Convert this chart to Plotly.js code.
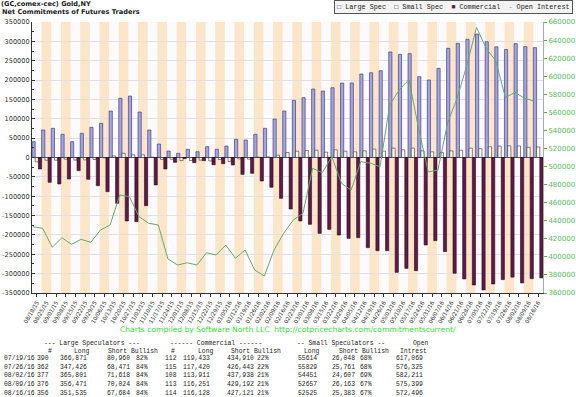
<!DOCTYPE html>
<html><head><meta charset="utf-8">
<script src="https://cdn.plot.ly/plotly-3.0.1.min.js"></script>
<style>html,body{margin:0;padding:0;background:#fff;} #chart{width:576px;height:397px;}</style>
</head><body><div id="chart"></div>
<script>
const dates = ["08/18/15","08/25/15","09/01/15","09/08/15","09/15/15","09/22/15","09/29/15","10/06/15","10/13/15","10/20/15","10/27/15","11/03/15","11/10/15","11/17/15","11/24/15","12/01/15","12/08/15","12/15/15","12/22/15","12/29/15",
"01/05/16","01/12/16","01/19/16","01/26/16","02/02/16","02/09/16","02/16/16","02/23/16","03/01/16","03/08/16","03/15/16","03/22/16","03/29/16","04/05/16","04/12/16","04/19/16","04/26/16","05/03/16","05/10/16","05/17/16","05/24/16","05/31/16","06/07/16","06/14/16","06/21/16","06/28/16","07/05/16","07/12/16","07/19/16","07/26/16","08/02/16","08/09/16","08/16/16"];
const largeSpec = [40800,71000,75400,59900,40800,62500,78000,88300,120000,152900,158800,117500,71000,34900,16800,10800,21200,15000,27900,21200,
29700,47000,45200,59900,75400,99400,120000,147700,154500,177000,171800,180300,192400,192400,215700,219000,224300,272500,266500,268200,208800,200200,230300,282000,295000,305300,319000,299000,285911,278955,294183,286447,283851];
const smallSpec = [-11000,-7000,-7000,-4400,-6800,-6200,-5200,-1000,4000,11000,7000,7000,1000,-5000,-4400,-8000,-7800,-6800,-9000,-5200,
-10300,-3500,-4300,800,1600,6000,13000,16300,18100,18900,13800,19900,16400,14700,17200,21700,16400,24100,19800,24100,17200,14600,12900,17000,18800,24000,23000,27700,29566,30068,29844,26494,27142];
const commercial = [-29700,-64000,-68400,-55500,-34000,-56300,-72800,-88300,-118300,-164000,-165800,-124500,-71000,-29700,-12400,-2800,-13400,-8200,-18900,-16000,
-19400,-43500,-40900,-60700,-77000,-105400,-133000,-164000,-172600,-195900,-185600,-200200,-208800,-207100,-232900,-240700,-240700,-296600,-286300,-292300,-226000,-214800,-243200,-299000,-313800,-329300,-342000,-326700,-315477,-309023,-324027,-312941,-310993];
const openInterest = [433400,431600,410600,421200,413900,419400,416100,429700,435300,468500,466600,444500,437200,435300,397600,391000,393500,391000,404600,402100,
413100,398400,407600,385500,378800,407600,426000,440800,448200,498000,493200,510900,481400,474000,505400,503600,499800,568000,585000,596000,542000,494000,496000,548000,576000,612000,654000,631000,617069,576325,582211,575399,572496];
const leftTickVals = [-350000,-300000,-250000,-200000,-150000,-100000,-50000,0,50000,100000,150000,200000,250000,300000,350000];
const rightTickVals = [360000,380000,400000,420000,440000,460000,480000,500000,520000,540000,560000,580000,600000,620000,640000,660000];

const tableDates = ["07/19/16","07/26/16","08/02/16","08/09/16","08/16/16"];
const lsTraders = ["390","362","377","376","356"];
const lsLong = ["366,871","347,426","365,801","356,471","351,535"];
const lsShort = ["80,960","68,471","71,618","70,024","67,684"];
const lsBullish = ["82%","84%","84%","84%","84%"];
const cmTraders = ["112","115","108","113","114"];
const cmLong = ["119,433","117,420","113,911","116,251","116,128"];
const cmShort = ["434,910","426,443","437,938","429,192","427,121"];
const cmBullish = ["22%","22%","21%","21%","21%"];
const ssLong = ["55614","55829","54451","52657","52525"];
const ssShort = ["26,048","25,761","24,607","26,163","25,383"];
const ssBullish = ["68%","68%","69%","67%","67%"];
const tableOI = ["617,069","576,325","582,211","575,399","572,496"];

const W = 576, H = 397, ML = 32, MR = 33, MT = 22, MB = 104;
const PW = W - ML - MR, PH = H - MT - MB;
const px = x => (x - ML) / PW;
const py = y => 1 - (y - MT) / PH;
const idx = dates.map((d, i) => i);

const C_LS = '#a3a3e6', C_LS_LINE = '#2e2e6e';
const C_SS = '#ffffe0', C_SS_LINE = '#333333';
const C_CM = '#5e1a45', C_CM_LINE = '#2a0a20';
const C_OI = '#66aa66';

const traces = [
  {type:'bar', name:'Large Spec', x:idx, y:largeSpec, marker:{color:C_LS, line:{color:C_LS_LINE, width:0.6}}},
  {type:'bar', name:'Small Spec', x:idx, y:smallSpec, marker:{color:C_SS, line:{color:C_SS_LINE, width:0.6}}},
  {type:'bar', name:'Commercial', x:idx, y:commercial, marker:{color:C_CM, line:{color:C_CM_LINE, width:0.6}}},
  {type:'scatter', mode:'lines', name:'Open Interest', x:idx.map(i => i - 0.4), y:openInterest, yaxis:'y2', line:{color:C_OI, width:1}}
];

const shapes = idx.filter(i => i % 2 === 1).map(i => ({
  type:'rect', xref:'x', yref:'paper', x0:i - 0.5, x1:i + 0.5, y0:0, y1:1,
  fillcolor:'#fde5c8', line:{width:0}, layer:'below'
}));

const mono = 'Liberation Mono, Courier New, monospace';
const tfont = {family:mono, size:6.4, color:'#222'};
const annotations = [];
function addText(text, x, y, anchor, font) {
  annotations.push({text:text, x:px(x), y:py(y), xref:'paper', yref:'paper', xanchor:anchor, yanchor:'middle', showarrow:false, font:font || tfont, borderpad:0});
}
// title line 2
addText('<b>Net Commitments of Futures Traders</b>', 1, 12.3, 'left', {family:'DejaVu Sans', size:6.6, color:'#222'});
// legend box
annotations.push({
  text:'<span style="color:'+C_LS_LINE+'">\u25A1</span> Large Spec  <span style="color:#333">\u25A1</span> Small Spec  <span style="color:'+C_CM+'">\u25A0</span> Commercial  <span style="color:'+C_OI+'">-</span> Open Interest',
  x:px(453), y:py(7.5), xref:'paper', yref:'paper', xanchor:'center', yanchor:'middle', showarrow:false,
  font:{family:mono, size:6.8, color:'#222'}, bgcolor:'#f3f3f3', bordercolor:'#555', borderwidth:1, borderpad:2
});
// footer
addText('Charts compiled by Software North LLC  http://cotpricecharts.com/commitmentscurrent/', 288, 329, 'center', {family:'DejaVu Sans', size:7.6, color:'#3ddc3d'});
// table headers
[['--- Large Speculators ---',42.7],['------ Commercial ------',169],['-- Small Speculators --',296],['Open',411.7]].forEach(h => addText(h[0], h[1], 343.3, 'left'));
[['#',46.7],['Long',72.7],['Short Bullish',107],['#',170],['Long',197],['Short Bullish',230],['Long',303],['Short Bullish',338],['Intrest',399]].forEach(h => addText(h[0], h[1], 351, 'left'));
const cols = [[lsTraders,49.5],[lsLong,88],[lsShort,131],[lsBullish,148.5],[cmTraders,177.5],[cmLong,211],[cmShort,254.5],[cmBullish,270],[ssLong,318],[ssShort,356],[ssBullish,373],[tableOI,424]];
tableDates.forEach((d, r) => {
  const y = 358.7 + 8.6 * r;
  addText(d, 2.5, y, 'left');
  cols.forEach(c => addText(c[0][r], c[1], y, 'right'));
});

const layout = {
  width:W, height:H,
  margin:{l:ML, r:MR, t:MT, b:MB, pad:0},
  paper_bgcolor:'#ffffff', plot_bgcolor:'#fbfbff',
  showlegend:false,
  barmode:'group', bargap:0, bargroupgap:0,
  title:{text:'<b>(GC,comex-cec) Gold,NY</b>', xref:'container', yref:'container', x:1/W, xanchor:'left', y:1 - 4/H, yanchor:'middle', font:{family:'DejaVu Sans', size:6.6, color:'#222'}},
  xaxis:{range:[-0.5, dates.length - 0.5], tickmode:'array', tickvals:idx, ticktext:dates, tickangle:-60,
    tickfont:{family:'DejaVu Sans', size:5.6, color:'#333'}, ticks:'outside', ticklen:3, tickcolor:'#333',
    showline:true, linecolor:'#333', linewidth:1, showgrid:false, zeroline:false, fixedrange:true},
  yaxis:{range:[-350000, 350000], tickmode:'array', tickvals:leftTickVals, ticktext:leftTickVals.map(v => String(v)),
    tickfont:{family:'DejaVu Sans', size:6.6, color:'#333'}, ticks:'inside', ticklen:3, tickcolor:'#333',
    minor:{tickmode:'linear', tick0:0, dtick:25000, ticks:'inside', ticklen:2, tickcolor:'#333', showgrid:false},
    showline:true, linecolor:'#333', linewidth:1, showgrid:true, gridcolor:'#e0e0e0', gridwidth:1,
    zeroline:true, zerolinecolor:'#333', zerolinewidth:1, fixedrange:true},
  yaxis2:{overlaying:'y', side:'right', range:[360000, 660000], tickmode:'array', tickvals:rightTickVals, ticktext:rightTickVals.map(v => String(v)),
    tickfont:{family:'DejaVu Sans', size:7, color:'#55bb55'}, ticks:'outside', ticklen:3, tickcolor:'#55aa55',
    showgrid:false, zeroline:false, showline:true, linecolor:'#aaaaaa', linewidth:1, fixedrange:true},
  shapes:shapes,
  annotations:annotations
};

Plotly.newPlot('chart', traces, layout, {staticPlot:true, displayModeBar:false});
</script>
</body></html>
